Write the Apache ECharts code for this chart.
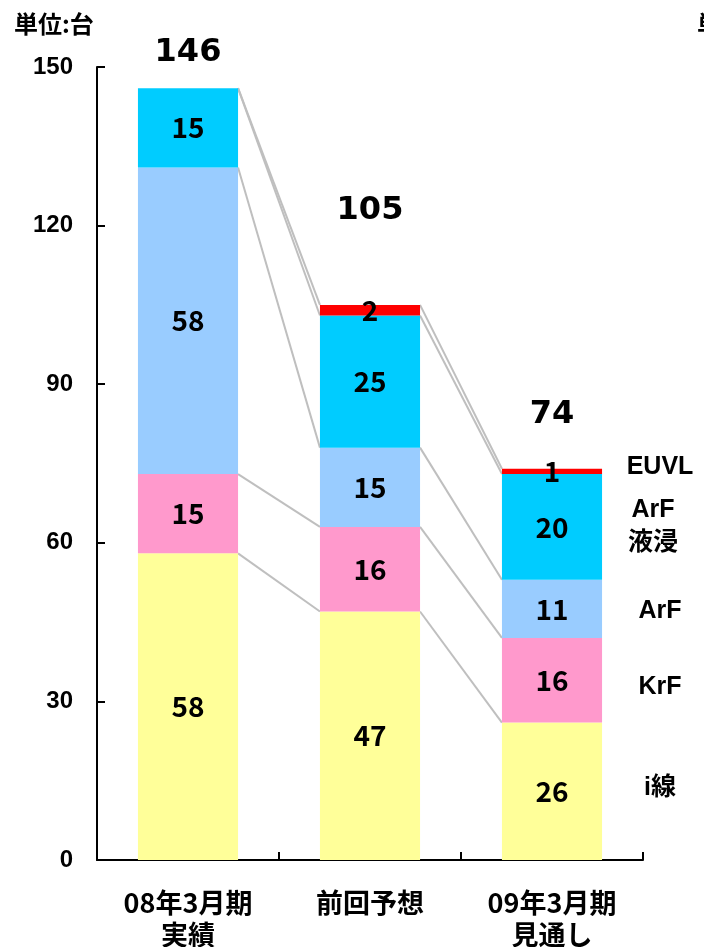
<!DOCTYPE html>
<html>
<head>
<meta charset="utf-8">
<script src="https://cdn.jsdelivr.net/npm/echarts@6/dist/echarts.min.js"></script>
<style>
html,body{margin:0;padding:0;background:#fff;}
#c{width:704px;height:947px;}
</style>
</head>
<body>
<div id="c"></div>
<script>
// ---- data ----
const categories = ['08年3月期\n実績', '前回予想', '09年3月期\n見通し'];
const seriesNames = ['i線', 'KrF', 'ArF', 'ArF\n液浸', 'EUVL'];
const iLine  = [58, 47, 26];
const krf    = [15, 16, 16];
const arf    = [58, 15, 11];
const arfImm = [15, 25, 20];
const euvl   = [0, 2, 1];
const totals = [146, 105, 74];
const yMin = 0, yMax = 150, yStep = 30;

// ---- styling ----
const colors = ['#FFFF99', '#FF99CC', '#99CCFF', '#00CCFF', '#FF0000'];
const totalLift = [35, 94, 54];
const nameShiftY = [-3, 7, 2, 0, -4];
const barFrac = 0.55;
const CJK = '"Noto Sans CJK JP", sans-serif';
const LAT = '"Liberation Sans", "Noto Sans CJK JP", sans-serif';

const stacks = [iLine, krf, arf, arfImm, euvl];
const tops = stacks.map((_, s) => categories.map((__, c) => {
  let sum = 0; for (let k = 0; k <= s; k++) sum += stacks[k][c]; return sum;
}));
const bottoms = stacks.map((_, s) => categories.map((__, c) => s === 0 ? 0 : tops[s - 1][c]));

const connectorData = [];
for (let s = 0; s < stacks.length; s++) {
  for (let c = 0; c < categories.length - 1; c++) {
    connectorData.push([c, tops[s][c], tops[s][c + 1]]);
  }
}
const last = categories.length - 1;
const nameData = seriesNames.map((n, s) => [last, bottoms[s][last], tops[s][last], s]);
const totalData = totals.map((t, c) => [c, t, c]);

const chart = echarts.init(document.getElementById('c'), null, {renderer: 'canvas'});

const barSeries = stacks.map((arr, s) => ({
  type: 'bar',
  name: seriesNames[s],
  stack: 'all',
  data: arr,
  barWidth: (barFrac * 100) + '%',
  itemStyle: {color: colors[s]},
  z: 3,
  label: {
    show: true,
    position: 'inside',
    formatter: p => (p.value ? String(p.value) : ''),
    color: '#000',
    fontFamily: CJK,
    fontWeight: 'bold',
    fontSize: 28
  }
}));

const option = {
  animation: false,
  backgroundColor: '#fff',
  grid: {left: 97, right: 61, top: 67, bottom: 87, containLabel: false, outerBoundsMode: 'none'},
  xAxis: {
    type: 'category',
    data: categories,
    axisLine: {lineStyle: {color: '#000', width: 2}},
    axisTick: {show: true, inside: true, length: 8, alignWithLabel: false, lineStyle: {color: '#000', width: 2}},
    axisLabel: {color: '#000', fontFamily: CJK, fontWeight: 'bold', fontSize: 27, lineHeight: 32, margin: 27, interval: 0}
  },
  yAxis: {
    type: 'value',
    min: yMin, max: yMax, interval: yStep,
    splitLine: {show: false},
    axisLine: {show: true, lineStyle: {color: '#000', width: 2}},
    axisTick: {show: true, inside: true, length: 8, lineStyle: {color: '#000', width: 2}},
    axisLabel: {color: '#000', fontFamily: LAT, fontWeight: 'bold', fontSize: 24, margin: 24}
  },
  graphic: [
    {type: 'text', left: 14, top: 12, style: {text: '単位:台', fontFamily: CJK, fontWeight: 'bold', fontSize: 24, fill: '#000'}},
    {type: 'text', left: 697, top: 12, style: {text: '単位:台', fontFamily: CJK, fontWeight: 'bold', fontSize: 24, fill: '#000'}}
  ],
  series: [
    {
      type: 'custom',
      name: 'connectors',
      coordinateSystem: 'cartesian2d',
      data: connectorData,
      encode: {x: 0, y: 1},
      z: 1,
      silent: true,
      renderItem: (params, api) => {
        const p1 = api.coord([api.value(0), api.value(1)]);
        const p2 = api.coord([api.value(0) + 1, api.value(2)]);
        const half = api.size([1, 0])[0] * barFrac / 2;
        return {
          type: 'line',
          shape: {x1: p1[0] + half, y1: p1[1], x2: p2[0] - half, y2: p2[1]},
          style: {stroke: '#BFBFBF', lineWidth: 2}
        };
      }
    },
    ...barSeries,
    {
      type: 'custom',
      name: 'totals',
      coordinateSystem: 'cartesian2d',
      data: totalData,
      encode: {x: 0, y: 1},
      z: 5,
      silent: true,
      renderItem: (params, api) => {
        const p = api.coord([api.value(0), api.value(1)]);
        const idx = api.value(2);
        return {
          type: 'text',
          style: {
            text: String(totals[idx]), x: p[0], y: p[1] - totalLift[idx],
            align: 'center', verticalAlign: 'middle',
            fontFamily: '"DejaVu Sans", sans-serif', fontWeight: 'bold', fontSize: 32, fill: '#000'
          }
        };
      }
    },
    {
      type: 'custom',
      name: 'names',
      coordinateSystem: 'cartesian2d',
      data: nameData,
      encode: {x: 0, y: 1},
      z: 5,
      silent: true,
      renderItem: (params, api) => {
        const mid = (api.value(1) + api.value(2)) / 2;
        const p = api.coord([api.value(0), mid]);
        const s = api.value(3);
        return {
          type: 'text',
          style: {
            text: seriesNames[s], x: p[0] + 108 - (s === 3 ? 7 : 0), y: p[1] + nameShiftY[s],
            align: 'center', verticalAlign: 'middle', lineHeight: 33,
            fontFamily: LAT, fontWeight: 'bold', fontSize: 25, fill: '#000'
          }
        };
      }
    }
  ]
};
chart.setOption(option);
</script>
</body>
</html>
